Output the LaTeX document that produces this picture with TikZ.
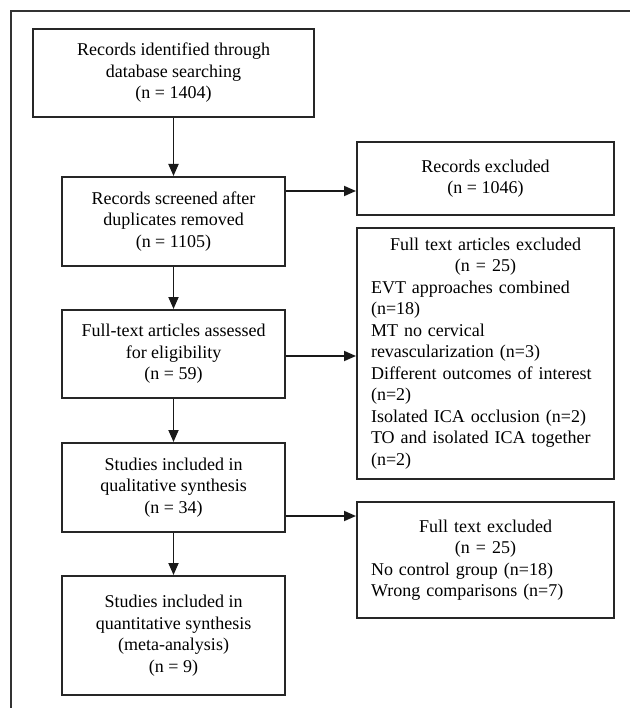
\documentclass[tikz,border=0pt]{standalone}
\usepackage{fontspec}
\setmainfont{Liberation Serif}
\usetikzlibrary{arrows.meta}
\begin{document}
\begin{tikzpicture}[
    x=1pt, y=-1pt,
    box/.style={draw=black!85, line width=2pt, align=center,
                minimum width=223pt, inner sep=4pt,
                font=\fontsize{18}{21.5}\selectfont},
    side/.style={box, minimum width=257pt, text width=229pt,
                 inner xsep=14pt, align=left},
    arr/.style={-{Triangle[length=12pt,width=10pt]}, line width=1.8pt, black!90}
]
\useasboundingbox (0,0) rectangle (630,708);
\draw[line width=1.8pt, black!80] (11,708) -- (11,11) -- (630,11);

% main column
\node[box, minimum width=281pt, minimum height=88pt] (ident) at (173.5,73) {
    Records identified through\\ database searching\\ (n = 1404)
};
\node[box, minimum height=89pt] (screen) at (173.5,221.5) {
    Records screened after\\ duplicates removed\\ (n = 1105)
};
\node[box, minimum height=88pt] (full) at (173.5,354) {
    Full-text articles assessed\\ for eligibility\\ (n = 59)
};
\node[box, minimum height=89pt] (qual) at (173.5,487.5) {
    Studies included in\\ qualitative synthesis\\ (n = 34)
};
\node[box, minimum height=119pt] (quant) at (173.5,635.5) {
    Studies included in\\ quantitative synthesis\\ (meta-analysis)\\ (n = 9)
};

% exclusions
\node[box, minimum width=257pt, minimum height=73pt] (recexcl) at (485.5,178.5) {
    Records excluded\\ (n = 1046)
};
\node[side, minimum height=251pt] (fullexcl) at (485.5,353.5) {
    {\centering Full text articles excluded\\ (n = 25)\par}
    EVT approaches combined\\ (n=18)\\
    MT no cervical\\ revascularization (n=3)\\
    Different outcomes of interest\\ (n=2)\\
    Isolated ICA occlusion (n=2)\\
    TO and isolated ICA together\\ (n=2)
};
\node[side, minimum height=116pt] (textexcl) at (485.5,560) {
    {\centering Full text excluded\\ (n = 25)\par}
    No control group (n=18)\\
    Wrong comparisons (n=7)
};

\draw[arr] (ident.south) -- (screen.north);
\draw[arr] (screen.south) -- (full.north);
\draw[arr] (full.south) -- (qual.north);
\draw[arr] (qual.south) -- (quant.north);
\draw[arr] ([yshift=30.5pt]screen.east) -- ([yshift=30.5pt]screen.east -| recexcl.west);
\draw[arr] ([yshift=-2pt]full.east) -- ([yshift=-2pt]full.east -| fullexcl.west);
\draw[arr] ([yshift=-28.5pt]qual.east) -- ([yshift=-28.5pt]qual.east -| textexcl.west);
\end{tikzpicture}
\end{document}
